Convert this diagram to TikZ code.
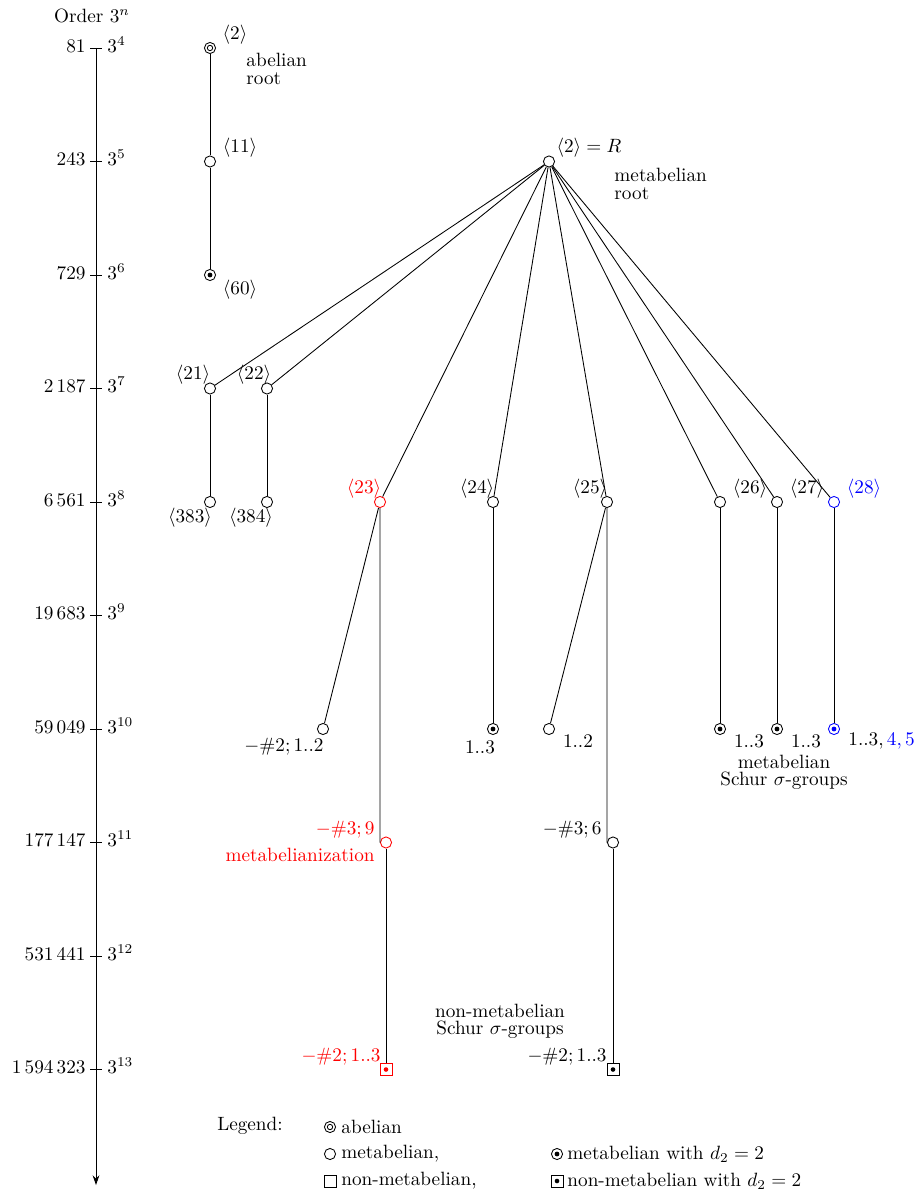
\documentclass[tikz,border=0pt]{standalone}
\usetikzlibrary{arrows.meta}
\begin{document}
\begin{tikzpicture}[x=0.52pt,y=-0.52pt,line width=0.45pt,
  met/.style={circle,draw=#1,minimum size=5.8pt,inner sep=0pt},
  met/.default=black,
  metd/.style={circle,draw=#1,minimum size=5.8pt,inner sep=0pt,
    path picture={\fill[#1] (path picture bounding box.center) circle (1.25pt);}},
  metd/.default=black,
  abn/.style={circle,draw,minimum size=5.8pt,inner sep=0pt,
    path picture={\draw (path picture bounding box.center) circle (1.4pt);}},
  sqd/.style={rectangle,draw=#1,minimum size=6.2pt,inner sep=0pt,
    path picture={\fill[#1] (path picture bounding box.center) circle (1.2pt);}},
  sqd/.default=black,
  sqp/.style={rectangle,draw,minimum size=6.2pt,inner sep=0pt},
  lbl/.style={inner sep=0pt}]
\useasboundingbox (0,0) rectangle (917,1195);

% axis
\node[lbl] (ordertitle) at (92,16) {Order $3^n$};
\coordinate (axtop) at (96,48);
\coordinate (axbot) at (96,1185);
\draw[-{Stealth[length=5pt,width=3.5pt]}] (axtop) -- (axbot);
\foreach \n/\y/\lab in {4/48/81, 5/161.5/243, 6/275/729, 7/388.5/2\,187, 8/502/6\,561,
  9/615.5/19\,683, 10/729/59\,049, 11/842.5/177\,147, 12/956/531\,441, 13/1069.5/1\,594\,323}{
  \draw (90,\y) -- (102,\y);
  \node[lbl,anchor=mid east] (L\n) at (86,\y) {$\lab$};
  \node[lbl,anchor=mid west] (P\n) at (107,\y) {$3^{\n}$};
}

% abelian branch
\node[abn] (a2) at (210,48) {};
\node[met] (a11) at (210,161.5) {};
\node[metd] (a60) at (210,275) {};
\draw (a2) -- (a11) -- (a60);
\node[lbl] (la2) at (235,35) {$\langle 2\rangle$};
\node[lbl,anchor=north west,align=left] (abroot) at (246,53) {abelian\\[-3pt]root};
\node[lbl] (la11) at (240,148) {$\langle 11\rangle$};
\node[lbl] (la60) at (240,290) {$\langle 60\rangle$};

% metabelian root
\node[met] (R) at (549,161.5) {};
\node[lbl] (lR) at (589,148) {$\langle 2\rangle = R$};
\node[lbl,anchor=north west,align=left] (mroot) at (614,168) {metabelian\\[-3pt]root};

% order 3^7
\node[met] (n21) at (210,388.5) {};
\node[met] (n22) at (267,388.5) {};
\node[lbl] (l21) at (193,375) {$\langle 21\rangle$};
\node[lbl] (l22) at (254,375) {$\langle 22\rangle$};

% order 3^8
\node[met] (n383) at (210,502) {};
\node[met] (n384) at (267,502) {};
\node[lbl] (l383) at (190,518) {$\langle 383\rangle$};
\node[lbl] (l384) at (251,518) {$\langle 384\rangle$};
\node[met=red] (n23) at (380,502) {};
\node[met] (n24) at (493,502) {};
\node[met] (n25) at (607,502) {};
\node[met] (n26x) at (720,502) {};
\node[met] (n26) at (777,502) {};
\node[met=blue] (n28) at (834,502) {};
\node[lbl,text=red] (l23) at (364,489) {$\langle 23\rangle$};
\node[lbl] (l24) at (477,489) {$\langle 24\rangle$};
\node[lbl] (l25) at (590,489) {$\langle 25\rangle$};
\node[lbl] (l26) at (750,489) {$\langle 26\rangle$};
\node[lbl] (l27) at (807,489) {$\langle 27\rangle$};
\node[lbl,text=blue] (l28) at (864,489) {$\langle 28\rangle$};

\foreach \t in {n21,n22,n23,n24,n25,n26x,n26,n28}{ \draw (R) -- (\t); }
\draw (n21) -- (n383);
\draw (n22) -- (n384);

% order 3^10
\node[met] (c1) at (323,729) {};
\node[metd] (c2) at (493,729) {};
\node[met] (c3) at (549,729) {};
\node[metd] (c4) at (720,729) {};
\node[metd] (c5) at (777,729) {};
\node[metd=blue] (c6) at (834,729) {};
\draw (n23) -- (c1);
\draw (n24) -- (c2);
\draw (n25) -- (c3);
\draw (n26x) -- (c4);
\draw (n26) -- (c5);
\draw (n28) -- (c6);
\node[lbl] (lc1) at (284,747) {$-\#2;1..2$};
\node[lbl] (lc2) at (480,747) {$1..3$};
\node[lbl] (lc3) at (578,741) {$1..2$};
\node[lbl] (lc4) at (749,741) {$1..3$};
\node[lbl] (lc5) at (806,741) {$1..3$};
\node[lbl,anchor=west] (lc6) at (848,741) {$1..3,\textcolor{blue}{4,5}$};
\node[lbl,align=center] (msg) at (784,772) {metabelian\\[-3pt]Schur $\sigma$-groups};

% order 3^11
\node[met=red] (m1) at (386,842.5) {};
\node[met] (m2) at (613,842.5) {};
\draw (n23) -- (m1.west);
\draw (n25) -- (m2.west);
\node[lbl,text=red,anchor=east] (lm1) at (375,830) {$-\#3;9$};
\node[lbl,text=red,anchor=east] (metab) at (375,855) {metabelianization};
\node[lbl,anchor=east] (lm2) at (602,830) {$-\#3;6$};

% order 3^13
\node[sqd=red] (s1) at (386,1069.5) {};
\node[sqd] (s2) at (613,1069.5) {};
\draw (m1) -- (s1);
\draw (m2) -- (s2);
\node[lbl,text=red,anchor=east] (ls1) at (381,1057) {$-\#2;1..3$};
\node[lbl,anchor=east] (ls2) at (607,1057) {$-\#2;1..3$};
\node[lbl,align=center] (nmsg) at (500,1021) {non-metabelian\\[-3pt]Schur $\sigma$-groups};

% legend
\node[lbl] (leg) at (250,1126) {Legend:};
\node[abn] (g1) at (330,1127) {};
\node[lbl,anchor=west] (gt1) at (341,1127) {abelian};
\node[met] (g2) at (330,1154) {};
\node[lbl,anchor=west] (gt2) at (341,1154) {metabelian,};
\node[sqp] (g3) at (330,1181) {};
\node[lbl,anchor=west] (gt3) at (341,1181) {non-metabelian,};
\node[metd] (g4) at (557,1154) {};
\node[lbl,anchor=west] (gt4) at (567,1154) {metabelian with $d_2=2$};
\node[sqd] (g5) at (557,1181) {};
\node[lbl,anchor=west] (gt5) at (567,1181) {non-metabelian with $d_2=2$};
\end{tikzpicture}
\end{document}
